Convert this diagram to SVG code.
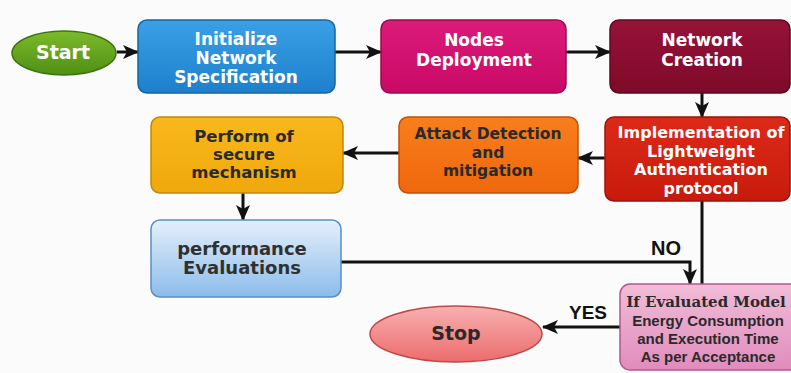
<svg xmlns="http://www.w3.org/2000/svg" width="791" height="373" viewBox="0 0 791 373">
<defs>
<style>
text{font-family:"DejaVu Sans","Open Sans",sans-serif;font-weight:bold;text-anchor:middle;dominant-baseline:central}
.w{fill:#ffffff;font-size:17px}
.d{fill:#2a2a2a;font-size:16.5px}
.s{font-family:"Liberation Sans",Arial,sans-serif;fill:#2a2a2a;font-size:15px}
.lab{font-family:"Liberation Sans",Arial,sans-serif;fill:#111;font-size:19px}
.box{stroke-width:1.5}
.c{fill:none;stroke:#111;stroke-width:3}
</style>
<marker id="ah" markerUnits="userSpaceOnUse" markerWidth="16" markerHeight="16" viewBox="0 0 16 16" refX="15" refY="8" orient="auto">
<path d="M0,1 L16,8 L0,15 L4,8 Z" fill="#111"/>
</marker>
<linearGradient id="gGreen" x1="0" y1="0" x2="0" y2="1"><stop offset="0" stop-color="#7cbb2a"/><stop offset="1" stop-color="#4f8f14"/></linearGradient>
<linearGradient id="gBlue" x1="0" y1="0" x2="0" y2="1"><stop offset="0" stop-color="#3aa0e6"/><stop offset="1" stop-color="#1e80cc"/></linearGradient>
<linearGradient id="gMag" x1="0" y1="0" x2="0" y2="1"><stop offset="0" stop-color="#dc1a7a"/><stop offset="1" stop-color="#c80a66"/></linearGradient>
<linearGradient id="gWine" x1="0" y1="0" x2="0" y2="1"><stop offset="0" stop-color="#961238"/><stop offset="1" stop-color="#7e0a2a"/></linearGradient>
<linearGradient id="gRed" x1="0" y1="0" x2="0" y2="1"><stop offset="0" stop-color="#dc2a18"/><stop offset="1" stop-color="#c81a0c"/></linearGradient>
<linearGradient id="gOrange" x1="0" y1="0" x2="0" y2="1"><stop offset="0" stop-color="#f87e1c"/><stop offset="1" stop-color="#f0680c"/></linearGradient>
<linearGradient id="gAmber" x1="0" y1="0" x2="0" y2="1"><stop offset="0" stop-color="#f8b81c"/><stop offset="1" stop-color="#f0a80c"/></linearGradient>
<linearGradient id="gLight" x1="0" y1="0" x2="0" y2="1"><stop offset="0" stop-color="#e4f0fb"/><stop offset="1" stop-color="#8cbcea"/></linearGradient>
<linearGradient id="gPink" x1="0" y1="0" x2="0" y2="1"><stop offset="0" stop-color="#f2bcd8"/><stop offset="1" stop-color="#e08cbc"/></linearGradient>
<linearGradient id="gStop" x1="0" y1="0" x2="0" y2="1"><stop offset="0" stop-color="#f8b0b0"/><stop offset="1" stop-color="#ec6c6c"/></linearGradient>
</defs>
<rect width="791" height="373" fill="#fbfbfb"/>

<g id="connectors">
<path class="c" d="M117,52 H138" marker-end="url(#ah)"/>
<path class="c" d="M335,52 H381" marker-end="url(#ah)"/>
<path class="c" d="M566,52 H610" marker-end="url(#ah)"/>
<path class="c" d="M702,93 V117" marker-end="url(#ah)"/>
<path class="c" d="M605,158 H578" marker-end="url(#ah)"/>
<path class="c" d="M399,153 H343" marker-end="url(#ah)"/>
<path class="c" d="M243,193 V220" marker-end="url(#ah)"/>
<path class="c" d="M341,262 H690 V284" marker-end="url(#ah)"/>
<path class="c" d="M702,201 V284"/>
<path class="c" d="M620,327 H543" marker-end="url(#ah)"/>
<text class="lab" x="666" y="248" style="font-size:20px">NO</text>
<text class="lab" x="588" y="312">YES</text>
</g>

<g id="start">
<ellipse cx="64" cy="53" rx="52" ry="22" fill="url(#gGreen)" stroke="#3c7410" stroke-width="1.5"/>
<text class="w" x="63" y="52" style="font-size:19px">Start</text>
</g>

<g id="init">
<rect class="box" x="138" y="20" width="197" height="73" rx="9" fill="url(#gBlue)" stroke="#1a64a0"/>
<text class="w" x="236" y="39">Initialize</text>
<text class="w" x="236" y="58">Network</text>
<text class="w" x="236" y="77">Specification</text>
</g>

<g id="nodes">
<rect class="box" x="381" y="20" width="185" height="73" rx="9" fill="url(#gMag)" stroke="#9a0a50"/>
<text class="w" x="474" y="40">Nodes</text>
<text class="w" x="474" y="60">Deployment</text>
</g>

<g id="network">
<rect class="box" x="610" y="20" width="180" height="73" rx="9" fill="url(#gWine)" stroke="#600820"/>
<text class="w" x="702" y="40">Network</text>
<text class="w" x="702" y="60">Creation</text>
</g>

<g id="impl">
<rect class="box" x="605" y="117" width="185" height="84" rx="9" fill="url(#gRed)" stroke="#9a140a"/>
<text class="w" x="701" y="132" style="font-size:16px">Implementation of</text>
<text class="w" x="701" y="151" style="font-size:16px">Lightweight</text>
<text class="w" x="701" y="169" style="font-size:16px">Authentication</text>
<text class="w" x="701" y="188" style="font-size:16px">protocol</text>
</g>

<g id="attack">
<rect class="box" x="399" y="117" width="179" height="76" rx="9" fill="url(#gOrange)" stroke="#c0500a"/>
<text class="d" x="488" y="134" style="font-size:15.5px">Attack Detection</text>
<text class="d" x="488" y="153" style="font-size:15.5px">and</text>
<text class="d" x="488" y="171" style="font-size:15.5px">mitigation</text>
</g>

<g id="perform">
<rect class="box" x="151" y="117" width="192" height="76" rx="9" fill="url(#gAmber)" stroke="#c0880a"/>
<text class="d" x="244" y="136">Perform of</text>
<text class="d" x="244" y="154">secure</text>
<text class="d" x="244" y="172">mechanism</text>
</g>

<g id="performance">
<rect class="box" x="151" y="220" width="190" height="77" rx="9" fill="url(#gLight)" stroke="#5a8ec4"/>
<text class="d" x="242" y="248" style="font-size:18px;fill:#303030">performance</text>
<text class="d" x="242" y="267" style="font-size:18px;fill:#303030">Evaluations</text>
</g>

<g id="decision">
<rect class="box" x="620" y="284" width="185" height="86" rx="10" fill="url(#gPink)" stroke="#b05a8c"/>
<text x="706" y="302" style="fill:#2a2a2a;font-size:15px;font-family:'DejaVu Serif','Liberation Serif',serif">If Evaluated Model</text>
<text class="s" x="708" y="320">Energy Consumption</text>
<text class="s" x="708" y="338">and Execution Time</text>
<text class="s" x="708" y="356">As per Acceptance</text>
</g>

<g id="stop">
<ellipse cx="456" cy="334" rx="86" ry="28" fill="url(#gStop)" stroke="#c04848" stroke-width="1.5"/>
<text class="d" x="456" y="333" style="font-size:19px">Stop</text>
</g>
</svg>
